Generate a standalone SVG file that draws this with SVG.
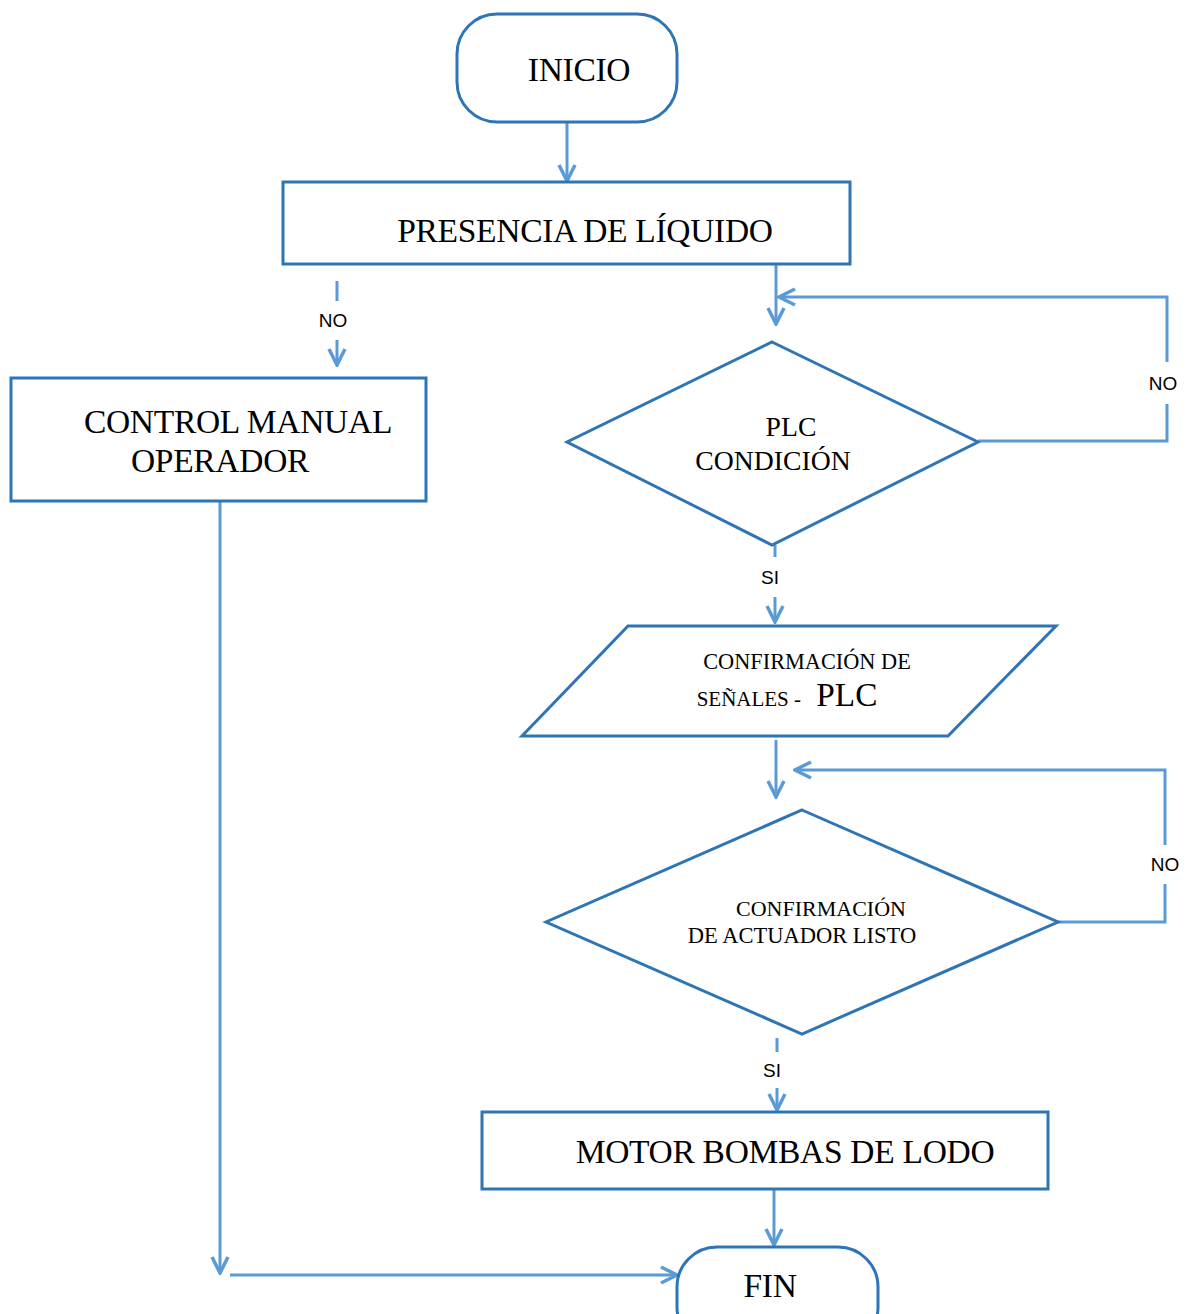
<svg xmlns="http://www.w3.org/2000/svg" width="1190" height="1314" viewBox="0 0 1190 1314">
<defs>
<marker id="arr" viewBox="0 0 20 20" refX="18" refY="10" markerWidth="20" markerHeight="20" markerUnits="userSpaceOnUse" orient="auto">
<path d="M2,2 L18,10 L2,18" fill="none" stroke="#5b9bd5" stroke-width="3.5"/>
</marker>
</defs>
<style>
.shape{fill:#fff;stroke:#2e75b6;stroke-width:3}
.conn{fill:none;stroke:#5b9bd5;stroke-width:3}
.t{font-family:"Liberation Serif","Times New Roman",serif;fill:#000;text-anchor:middle}
.big{font-size:33.5px;letter-spacing:-0.3px}
.s{font-family:"Liberation Sans",Arial,sans-serif;fill:#000;font-size:19px;text-anchor:middle}
</style>
<rect width="1190" height="1314" fill="#fff"/>
<g id="connectors">
<line class="conn" x1="567" y1="122" x2="567" y2="181" marker-end="url(#arr)"/>
<line class="conn" x1="337" y1="281" x2="337" y2="301" stroke-width="4"/>
<line class="conn" x1="337" y1="340" x2="337" y2="365" marker-end="url(#arr)"/>
<line class="conn" x1="776" y1="264" x2="776" y2="324" marker-end="url(#arr)"/>
<polyline class="conn" points="978,441 1167,441 1167,404"/>
<polyline class="conn" points="1167,362 1167,297 779,297" marker-end="url(#arr)" stroke-width="4"/>
<line class="conn" x1="775" y1="545" x2="775" y2="557"/>
<line class="conn" x1="775" y1="597" x2="775" y2="622" marker-end="url(#arr)"/>
<line class="conn" x1="776" y1="740" x2="776" y2="797" marker-end="url(#arr)"/>
<polyline class="conn" points="1058,922 1165,922 1165,884"/>
<polyline class="conn" points="1165,845 1165,770 795,770" marker-end="url(#arr)"/>
<line class="conn" x1="777" y1="1038" x2="777" y2="1052"/>
<line class="conn" x1="777" y1="1088" x2="777" y2="1110" marker-end="url(#arr)"/>
<line class="conn" x1="774" y1="1189" x2="774" y2="1245" marker-end="url(#arr)"/>
<line class="conn" x1="220" y1="501" x2="220" y2="1273" marker-end="url(#arr)"/>
<line class="conn" x1="230" y1="1275" x2="677" y2="1275" stroke-width="5" marker-end="url(#arr)"/>
</g>
<g id="inicio">
<rect class="shape" x="457" y="14" width="220" height="108" rx="40" ry="40"/>
<text class="t big" x="579" y="81">INICIO</text>
</g>
<g id="presencia">
<rect class="shape" x="283" y="182" width="567" height="82"/>
<text class="t big" x="585" y="242">PRESENCIA DE LÍQUIDO</text>
</g>
<g id="control-manual">
<rect class="shape" x="11" y="378" width="415" height="123"/>
<text class="t big" x="238" y="433">CONTROL MANUAL</text>
<text class="t big" x="220" y="472">OPERADOR</text>
</g>
<g id="plc-condicion">
<polygon class="shape" points="772,342 978,442 772,545 567,442"/>
<text class="t" x="791" y="436" font-size="27.7">PLC</text>
<text class="t" x="773" y="470" font-size="27.7">CONDICIÓN</text>
</g>
<g id="confirmacion-senales">
<polygon class="shape" points="628,626 1056,626 948,736 522,736"/>
<text class="t" x="807" y="669" font-size="22.3">CONFIRMACIÓN DE</text>
<text class="t" x="787" y="706"><tspan font-size="21">SEÑALES - </tspan><tspan font-size="33.3" dx="10">PLC</tspan></text>
</g>
<g id="confirmacion-actuador">
<polygon class="shape" points="802,810 1058,922 802,1034 546,922"/>
<text class="t" x="821" y="916" font-size="22">CONFIRMACIÓN</text>
<text class="t" x="802" y="943" font-size="22.5">DE ACTUADOR LISTO</text>
</g>
<g id="motor">
<rect class="shape" x="482" y="1112" width="566" height="77"/>
<text class="t big" x="785" y="1163">MOTOR BOMBAS DE LODO</text>
</g>
<g id="fin">
<rect class="shape" x="677" y="1247" width="201" height="100" rx="40" ry="40"/>
<text class="t big" x="770" y="1297">FIN</text>
</g>
<g id="labels">
<text class="s" x="333" y="327">NO</text>
<text class="s" x="1163" y="390">NO</text>
<text class="s" x="770" y="584">SI</text>
<text class="s" x="1165" y="871">NO</text>
<text class="s" x="772" y="1077">SI</text>
</g>
</svg>
